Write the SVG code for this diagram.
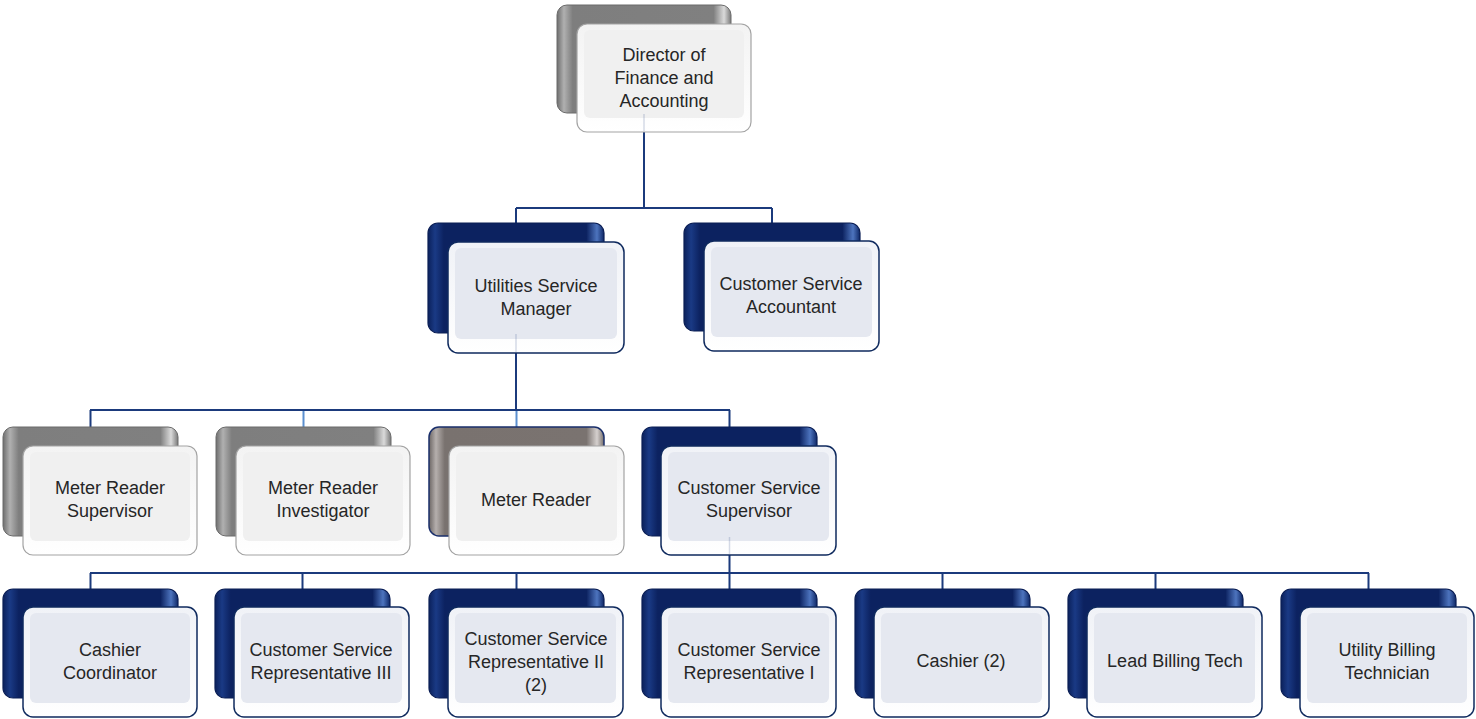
<svg xmlns="http://www.w3.org/2000/svg" width="1476" height="719" viewBox="0 0 1476 719">
<defs>
<linearGradient id="gBlue" x1="0" y1="0" x2="1" y2="0">
<stop offset="0" stop-color="#0B215C"/><stop offset="0.04" stop-color="#1A3A85"/><stop offset="0.09" stop-color="#0C2260"/><stop offset="0.9" stop-color="#0C2260"/><stop offset="0.96" stop-color="#4D74BE"/><stop offset="1" stop-color="#0E2766"/>
</linearGradient>
<linearGradient id="gGray" x1="0" y1="0" x2="1" y2="0">
<stop offset="0" stop-color="#6E6E6E"/><stop offset="0.04" stop-color="#B0B0B0"/><stop offset="0.09" stop-color="#7E7E7E"/><stop offset="0.9" stop-color="#808080"/><stop offset="0.96" stop-color="#DADADA"/><stop offset="1" stop-color="#7A7A7A"/>
</linearGradient>
<linearGradient id="gBrown" x1="0" y1="0" x2="1" y2="0">
<stop offset="0" stop-color="#6C6664"/><stop offset="0.04" stop-color="#B5AFAD"/><stop offset="0.09" stop-color="#79726F"/><stop offset="0.9" stop-color="#7A7370"/><stop offset="0.96" stop-color="#D5D0CE"/><stop offset="1" stop-color="#766F6C"/>
</linearGradient>
<linearGradient id="gFrontB" x1="0" y1="0" x2="0" y2="1">
<stop offset="0" stop-color="#F0F2F7"/><stop offset="1" stop-color="#FFFFFF"/>
</linearGradient>
<linearGradient id="gFrontG" x1="0" y1="0" x2="0" y2="1">
<stop offset="0" stop-color="#F3F3F3"/><stop offset="1" stop-color="#FFFFFF"/>
</linearGradient>
<style>
.bb{fill:url(#gBlue);stroke:#0A1E55;stroke-width:1.2}
.bg{fill:url(#gGray);stroke:#6A6A6A;stroke-width:1}
.bm{fill:url(#gBrown);stroke:#1A2F6B;stroke-width:1.5}
.fb{fill:url(#gFrontB);stroke:#0F2A5E;stroke-width:1.5}
.fg{fill:url(#gFrontG);stroke:#A3A3A3;stroke-width:1.2}
.ib{fill:#E5E8F0}
.ig{fill:#F0F0F0}
.t{font-family:"Liberation Sans",Arial,sans-serif;font-size:18px;fill:#262626;text-anchor:middle}
.c{fill:none;stroke:#1B3A7C;stroke-width:2}
.cl{fill:none;stroke:#5B8FD0;stroke-width:2}
.cf{fill:none;stroke:#1B3A7C;stroke-width:1.5;opacity:0.18}
</style>
</defs>
<g id="connectors">
<path class="c" d="M644 113V208M516 208H772M516 208V223M772 208V223"/>
<path class="c" d="M516 333V410M90 410H730M90.5 410V427M729.5 410V427"/>
<path class="cl" d="M303.5 411V427M516.5 411V427"/>
<path class="c" d="M729.5 536V573M90 573H1369M90.5 573V589M302.5 573V589M516.5 573V589M729.5 573V589M942.5 573V589M1155.5 573V589M1368.5 573V589"/>
</g>
<g id="n-director">
<rect class="bg" x="557" y="5" width="174" height="108" rx="10"/>
<rect class="fg" x="577" y="24" width="174" height="108" rx="10"/>
<rect class="ig" x="584" y="30" width="160" height="88" rx="6"/>
<text class="t" x="664" y="61">Director of</text><text class="t" x="664" y="84">Finance and</text><text class="t" x="664" y="107">Accounting</text>
</g>
<g id="n-usm">
<rect class="bb" x="428" y="223" width="176" height="110" rx="10"/>
<rect class="fb" x="448" y="242" width="176" height="111" rx="10"/>
<rect class="ib" x="455" y="248" width="162" height="91" rx="6"/>
<text class="t" x="536" y="292">Utilities Service</text><text class="t" x="536" y="315">Manager</text>
</g>
<g id="n-csa">
<rect class="bb" x="684" y="223" width="176" height="108" rx="10"/>
<rect class="fb" x="704" y="241" width="175" height="110" rx="10"/>
<rect class="ib" x="711" y="247" width="161" height="90" rx="6"/>
<text class="t" x="791" y="290">Customer Service</text><text class="t" x="791" y="313">Accountant</text>
</g>
<g id="n-mrs">
<rect class="bg" x="3" y="427" width="175" height="109" rx="10"/>
<rect class="fg" x="23" y="446" width="174" height="109" rx="10"/>
<rect class="ig" x="30" y="452" width="160" height="89" rx="6"/>
<text class="t" x="110" y="494">Meter Reader</text><text class="t" x="110" y="517">Supervisor</text>
</g>
<g id="n-mri">
<rect class="bg" x="216" y="427" width="175" height="109" rx="10"/>
<rect class="fg" x="236" y="446" width="174" height="109" rx="10"/>
<rect class="ig" x="243" y="452" width="160" height="89" rx="6"/>
<text class="t" x="323" y="494">Meter Reader</text><text class="t" x="323" y="517">Investigator</text>
</g>
<g id="n-mr">
<rect class="bm" x="429" y="427" width="175" height="109" rx="10"/>
<rect class="fg" x="449" y="446" width="175" height="109" rx="10"/>
<rect class="ig" x="456" y="452" width="161" height="89" rx="6"/>
<text class="t" x="536" y="506">Meter Reader</text>
</g>
<g id="n-css">
<rect class="bb" x="642" y="427" width="175" height="109" rx="10"/>
<rect class="fb" x="661" y="446" width="175" height="109" rx="10"/>
<rect class="ib" x="668" y="452" width="161" height="89" rx="6"/>
<text class="t" x="749" y="494">Customer Service</text><text class="t" x="749" y="517">Supervisor</text>
</g>
<g id="n-cc">
<rect class="bb" x="3" y="589" width="175" height="109" rx="10"/>
<rect class="fb" x="23" y="607" width="174" height="110" rx="10"/>
<rect class="ib" x="30" y="613" width="160" height="90" rx="6"/>
<text class="t" x="110" y="656">Cashier</text><text class="t" x="110" y="679">Coordinator</text>
</g>
<g id="n-csr3">
<rect class="bb" x="215" y="589" width="175" height="109" rx="10"/>
<rect class="fb" x="234" y="607" width="175" height="110" rx="10"/>
<rect class="ib" x="241" y="613" width="161" height="90" rx="6"/>
<text class="t" x="321" y="656">Customer Service</text><text class="t" x="321" y="679">Representative III</text>
</g>
<g id="n-csr2">
<rect class="bb" x="429" y="589" width="175" height="109" rx="10"/>
<rect class="fb" x="448" y="607" width="175" height="110" rx="10"/>
<rect class="ib" x="455" y="613" width="161" height="90" rx="6"/>
<text class="t" x="536" y="645">Customer Service</text><text class="t" x="536" y="668">Representative II</text><text class="t" x="536" y="691">(2)</text>
</g>
<g id="n-csr1">
<rect class="bb" x="642" y="589" width="175" height="109" rx="10"/>
<rect class="fb" x="661" y="607" width="175" height="110" rx="10"/>
<rect class="ib" x="668" y="613" width="161" height="90" rx="6"/>
<text class="t" x="749" y="656">Customer Service</text><text class="t" x="749" y="679">Representative I</text>
</g>
<g id="n-cashier">
<rect class="bb" x="855" y="589" width="175" height="109" rx="10"/>
<rect class="fb" x="874" y="607" width="175" height="110" rx="10"/>
<rect class="ib" x="881" y="613" width="161" height="90" rx="6"/>
<text class="t" x="961" y="667">Cashier (2)</text>
</g>
<g id="n-lbt">
<rect class="bb" x="1068" y="589" width="175" height="109" rx="10"/>
<rect class="fb" x="1087" y="607" width="175" height="110" rx="10"/>
<rect class="ib" x="1094" y="613" width="161" height="90" rx="6"/>
<text class="t" x="1175" y="667">Lead Billing Tech</text>
</g>
<g id="n-ubt">
<rect class="bb" x="1281" y="589" width="175" height="109" rx="10"/>
<rect class="fb" x="1300" y="607" width="174" height="110" rx="10"/>
<rect class="ib" x="1307" y="613" width="160" height="90" rx="6"/>
<text class="t" x="1387" y="656">Utility Billing</text><text class="t" x="1387" y="679">Technician</text>
</g>
<g id="connector-shadows">
<path class="cf" d="M644 114V131M516 334V352M729.5 537V554"/>
</g>
</svg>
